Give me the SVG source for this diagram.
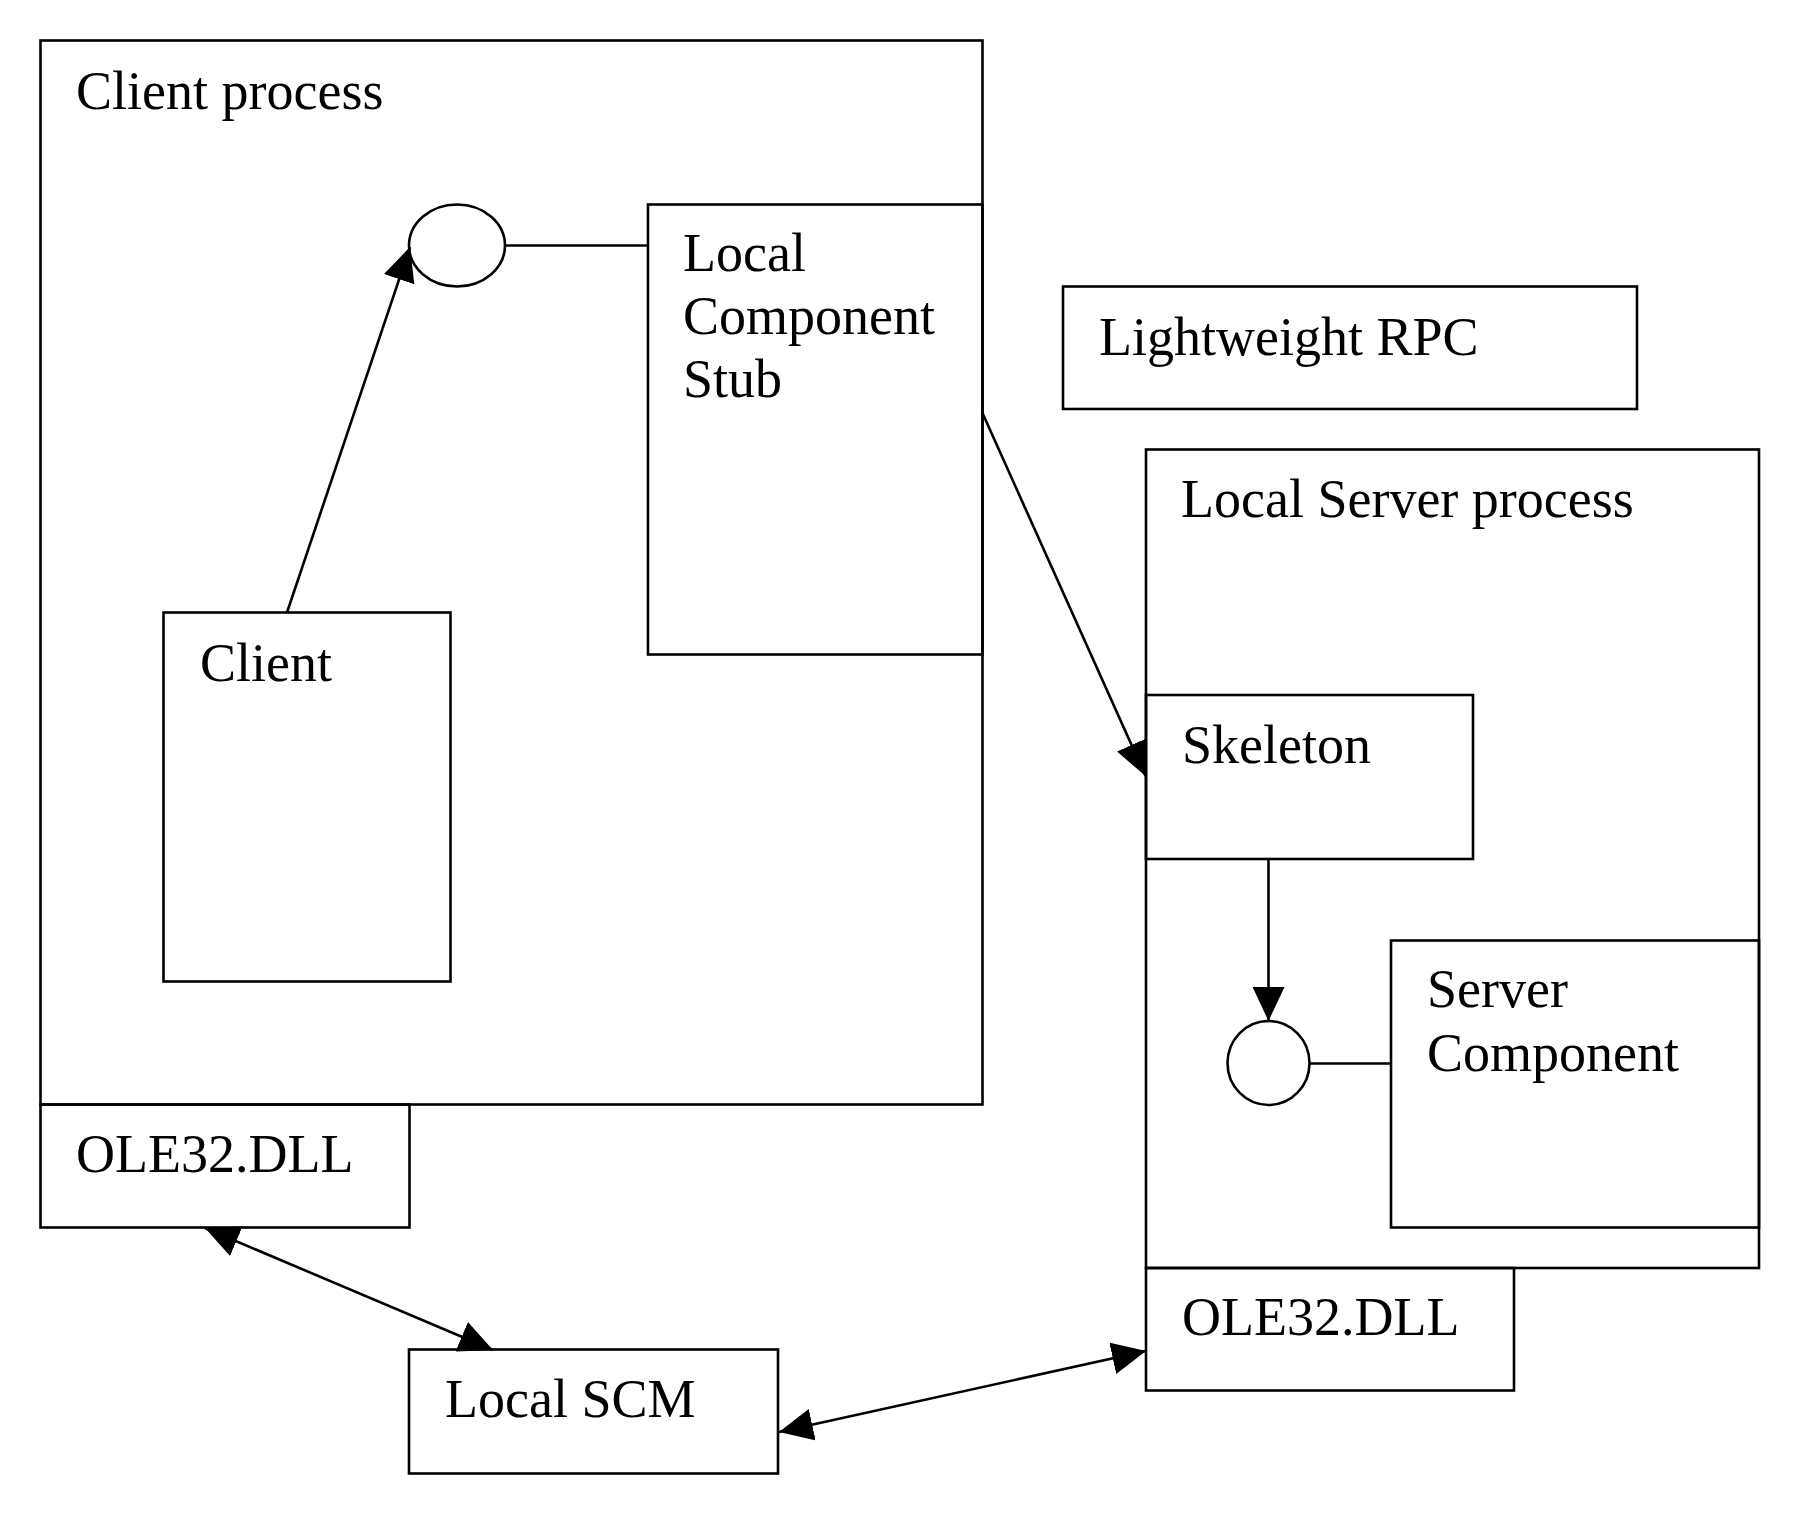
<svg xmlns="http://www.w3.org/2000/svg" width="1800" height="1515" viewBox="0 0 1800 1515">
<style>
.box{fill:none;stroke:#000;stroke-width:2.6}
.ifc{fill:#fff;stroke:#000;stroke-width:2.6}
.lbl{font-family:"Liberation Serif","Times New Roman",serif;font-size:54px;fill:#000}
.ln{fill:none;stroke:#000;stroke-width:2.6}
.arr{fill:none;stroke:#000;stroke-width:2.6;marker-end:url(#ah)}
.arr2{fill:none;stroke:#000;stroke-width:2.6;marker-start:url(#ah);marker-end:url(#ah)}
</style>
<defs>
<marker id="ah" viewBox="0 0 34 32" markerWidth="34" markerHeight="32" refX="34" refY="16" orient="auto-start-reverse" markerUnits="userSpaceOnUse">
<path d="M0,0 L34,16 L0,32 z" fill="#000"/>
</marker>
</defs>
<rect width="1800" height="1515" fill="#fff"/>
<g id="client-process">
<rect class="box" x="40.5" y="40.5" width="942" height="1064"/>
<text class="lbl" x="76" y="109">Client process</text>
</g>
<g id="stub">
<rect class="box" x="648" y="204.5" width="334.5" height="450"/>
<text class="lbl" x="683" y="271">Local</text>
<text class="lbl" x="683" y="334">Component</text>
<text class="lbl" x="683" y="397">Stub</text>
</g>
<g id="client">
<rect class="box" x="163.5" y="612.5" width="287" height="369"/>
<text class="lbl" x="200" y="681">Client</text>
</g>
<g id="client-interface">
<ellipse class="ifc" cx="457" cy="245.5" rx="48" ry="41"/>
</g>
<g id="ole32-client">
<rect class="box" x="40.5" y="1104.5" width="369" height="123"/>
<text class="lbl" x="76" y="1172">OLE32.DLL</text>
</g>
<g id="lightweight-rpc">
<rect class="box" x="1063" y="286.5" width="574" height="122.5"/>
<text class="lbl" x="1099" y="355">Lightweight RPC</text>
</g>
<g id="server-process">
<rect class="box" x="1146" y="449.5" width="613" height="818.5"/>
<text class="lbl" x="1181" y="517">Local Server process</text>
</g>
<g id="skeleton">
<rect class="box" x="1146" y="695" width="327" height="164"/>
<text class="lbl" x="1182" y="763">Skeleton</text>
</g>
<g id="server-component">
<rect class="box" x="1391" y="940.5" width="368" height="287"/>
<text class="lbl" x="1427" y="1007">Server</text>
<text class="lbl" x="1427" y="1071">Component</text>
</g>
<g id="server-interface">
<ellipse class="ifc" cx="1268.5" cy="1063" rx="41" ry="42"/>
</g>
<g id="ole32-server">
<rect class="box" x="1146" y="1268" width="368" height="122.5"/>
<text class="lbl" x="1182" y="1335">OLE32.DLL</text>
</g>
<g id="local-scm">
<rect class="box" x="409" y="1349.5" width="369" height="124"/>
<text class="lbl" x="445" y="1417">Local SCM</text>
</g>
<g id="connectors">
<line class="ln" x1="505" y1="245.5" x2="648" y2="245.5"/>
<line class="arr" x1="287" y1="612.5" x2="410" y2="247"/>
<line class="arr" x1="982" y1="412" x2="1145.5" y2="776"/>
<line class="arr" x1="1268.5" y1="859" x2="1268.5" y2="1021"/>
<line class="ln" x1="1309.5" y1="1063.5" x2="1391" y2="1063.5"/>
<line class="arr2" x1="205" y1="1228" x2="493" y2="1350"/>
<line class="arr2" x1="779" y1="1432" x2="1146" y2="1351"/>
</g>
</svg>
